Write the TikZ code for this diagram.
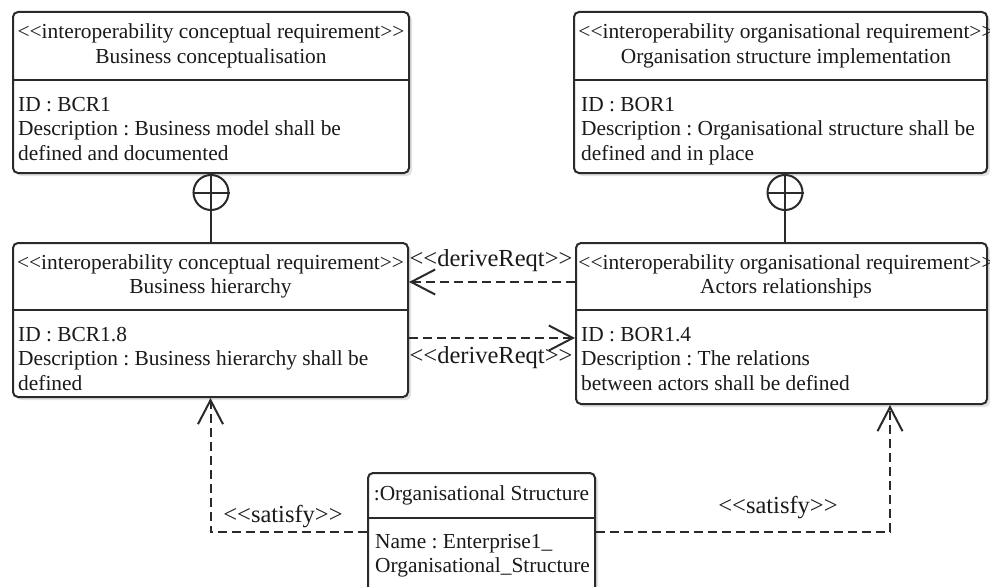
\documentclass[tikz,border=0pt]{standalone}
\usepackage{fontspec}
\setmainfont{Liberation Serif}[Ligatures=TeXOff]
\usetikzlibrary{arrows.meta,shadows,calc}
\definecolor{ln}{HTML}{2A2A2A}
\definecolor{tx}{HTML}{1A1A1A}
\frenchspacing
\begin{document}
\begin{tikzpicture}[x=1pt,y=-1pt,
  umlbox/.style={draw=ln, line width=2pt, rounded corners=5pt, fill=white, inner sep=0pt,
    drop shadow={shadow xshift=3pt, shadow yshift=-3pt, fill=black!25, opacity=0.45}},
  boxtext/.style={font=\fontsize{21.4}{24.4}\selectfont, text=tx, inner sep=0pt},
  hdr/.style={boxtext, align=center},
  bdy/.style={boxtext, align=left, anchor=north west},
  sepline/.style={draw=ln, line width=2pt},
  lbl/.style={font=\fontsize{24.5}{28}\selectfont, text=tx, inner sep=0pt},
  dep/.style={draw=ln, line width=2pt, dash pattern=on 9pt off 5pt,
    -{Straight Barb[length=24pt,width=25pt]}},
  own/.style={draw=ln, line width=2pt, circle, minimum size=35pt, inner sep=0pt, fill=white},
]
\clip (0,0) rectangle (990,586);
\fill[white] (0,0) rectangle (990,586);

% Box 1
\node[umlbox, minimum width=396pt, minimum height=161pt] (b1) at (211,92.5) {};
\draw[sepline] (b1.west |- 0,80) -- (b1.east |- 0,80);
\node[hdr] (h1) at (211,46) {<<interoperability conceptual requirement>>\\Business conceptualisation};
\node[bdy] (d1) at (18,97) {ID : BCR1\\Description : Business model shall be\\defined and documented};

% Box 2
\node[umlbox, minimum width=413pt, minimum height=161pt] (b2) at (780.5,92.5) {};
\draw[sepline] (b2.west |- 0,80) -- (b2.east |- 0,80);
\node[hdr] (h2) at (786,46) {<<interoperability organisational requirement>>\\Organisation structure implementation};
\node[bdy] (d2) at (581,97) {ID : BOR1\\Description : Organisational structure shall be\\defined and in place};

% Box 3
\node[umlbox, minimum width=395pt, minimum height=154pt] (b3) at (210.5,320) {};
\draw[sepline] (b3.west |- 0,310) -- (b3.east |- 0,310);
\node[hdr] (h3) at (210.5,276.5) {<<interoperability conceptual requirement>>\\Business hierarchy};
\node[bdy] (d3) at (18,327) {ID : BCR1.8\\Description : Business hierarchy shall be\\defined};

% Box 4
\node[umlbox, minimum width=411pt, minimum height=161pt] (b4) at (781.5,323.5) {};
\draw[sepline] (b4.west |- 0,310) -- (b4.east |- 0,310);
\node[hdr] (h4) at (786,276.5) {<<interoperability organisational requirement>>\\Actors relationships};
\node[bdy] (d4) at (581,327) {ID : BOR1.4\\Description : The relations\\between actors shall be defined};

% Box 5
\node[umlbox, minimum width=227pt, minimum height=124pt] (b5) at (481.5,535) {};
\draw[sepline] (b5.west |- 0,518) -- (b5.east |- 0,518);
\node[hdr] (h5) at (481.5,495.5) {:Organisational Structure};
\node[bdy] (d5) at (375,534) {Name : Enterprise1\_\\Organisational\_Structure};

% Containment
\node[own] (c1) at (211,192.5) {};
\draw[sepline] (c1.west) -- (c1.east);
\draw[sepline] (c1.north) -- (c1.south) -- (b3.north -| c1.south);
\node[own] (c2) at (785,192.5) {};
\draw[sepline] (c2.west) -- (c2.east);
\draw[sepline] (c2.north) -- (c2.south) -- (b4.north -| c2.south);

% deriveReqt
\draw[dep] (b4.west |- 0,282) -- (b3.east |- 0,282);
\node[lbl] (l1) at (491,261) {<<deriveReqt>>};
\draw[dep] (b3.east |- 0,338) -- (b4.west |- 0,338);
\node[lbl] (l2) at (491,358) {<<deriveReqt>>};

% satisfy
\draw[dep] (b5.west |- 0,532) -| (b3.south);
\node[lbl] (l3) at (283,517) {<<satisfy>>};
\draw[dep] (b5.east |- 0,532) -| (b4.south -| 890,0);
\node[lbl] (l4) at (778,508) {<<satisfy>>};
\end{tikzpicture}
\end{document}
